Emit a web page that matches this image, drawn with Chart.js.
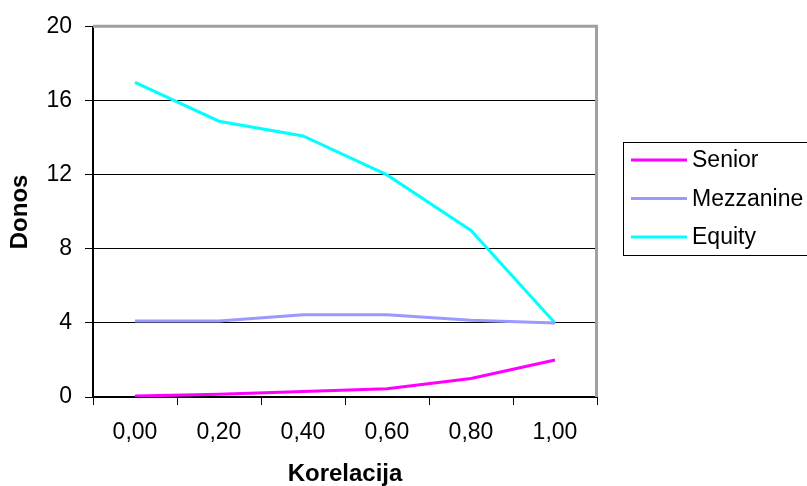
<!DOCTYPE html>
<html>
<head>
<meta charset="utf-8">
<script src="https://cdn.jsdelivr.net/npm/chart.js@4.4.0/dist/chart.umd.min.js"></script>
<style>
  html, body { margin: 0; padding: 0; background: #ffffff; }
  #wrap { width: 807px; height: 486px; }
</style>
</head>
<body>
<div id="wrap"><canvas id="c" width="807" height="486"></canvas></div>
<script>
const categories = ['0,00', '0,20', '0,40', '0,60', '0,80', '1,00'];
const seniorValues = [0.05, 0.15, 0.3, 0.45, 1.0, 2.0];
const mezzanineValues = [4.1, 4.1, 4.45, 4.45, 4.15, 4.0];
const equityValues = [17.0, 14.9, 14.1, 12.0, 9.0, 4.0];
const yTickValues = [0, 4, 8, 12, 16, 20];

const FONT = '"Liberation Sans", Arial, sans-serif';

const frameAndLegend = {
  id: 'frameAndLegend',
  beforeDatasetsDraw(chart) {
    const { ctx, chartArea: a } = chart;
    ctx.save();
    ctx.strokeStyle = '#a0a0a0';
    ctx.lineWidth = 3;
    ctx.beginPath();
    ctx.moveTo(a.left, a.top - 0.5);
    ctx.lineTo(a.right - 0.5, a.top - 0.5);
    ctx.lineTo(a.right - 0.5, a.bottom);
    ctx.stroke();
    ctx.restore();
  },
  afterDraw(chart) {
    const { ctx } = chart;
    ctx.save();
    ctx.strokeStyle = '#000000';
    ctx.lineWidth = 1;
    ctx.strokeRect(623.5, 142.5, 260, 113);
    const rows = [160, 198.5, 237];
    chart.data.datasets.forEach((ds, i) => {
      const y = rows[i];
      ctx.strokeStyle = ds.borderColor;
      ctx.lineWidth = 3;
      ctx.beginPath();
      ctx.moveTo(631, y);
      ctx.lineTo(687, y);
      ctx.stroke();
      ctx.fillStyle = '#000000';
      ctx.font = '23px ' + FONT;
      ctx.textBaseline = 'middle';
      ctx.textAlign = 'left';
      ctx.fillText(ds.label, 692, y + 1);
    });
    ctx.restore();
  }
};

new Chart(document.getElementById('c'), {
  type: 'line',
  data: {
    labels: categories,
    datasets: [
      { label: 'Senior', data: seniorValues, borderColor: '#ff00ff', backgroundColor: '#ff00ff' },
      { label: 'Mezzanine', data: mezzanineValues, borderColor: '#9999ff', backgroundColor: '#9999ff' },
      { label: 'Equity', data: equityValues, borderColor: '#00ffff', backgroundColor: '#00ffff' }
    ]
  },
  options: {
    responsive: false,
    animation: false,
    devicePixelRatio: 1,
    layout: { padding: { left: 0, top: 23, right: 210, bottom: 0 } },
    elements: {
      line: { borderWidth: 3, tension: 0 },
      point: { radius: 0, hoverRadius: 0 }
    },
    plugins: {
      legend: { display: false },
      tooltip: { enabled: false },
      title: { display: false }
    },
    scales: {
      x: {
        type: 'category',
        offset: true,
        grid: {
          offset: true,
          drawOnChartArea: false,
          drawTicks: true,
          tickLength: 8,
          color: '#000000',
          lineWidth: 1
        },
        border: { display: true, color: '#000000', width: 2 },
        ticks: {
          color: '#000000',
          font: { family: FONT, size: 23 },
          padding: 14,
          maxRotation: 0,
          autoSkip: false
        },
        title: {
          display: true,
          text: 'Korelacija',
          color: '#000000',
          font: { family: FONT, size: 24, weight: 'bold', lineHeight: 1 },
          padding: { top: 0, bottom: 0 }
        },
        afterFit(scale) { scale.height = 89; }
      },
      y: {
        min: 0,
        max: 20,
        afterBuildTicks(scale) { scale.ticks = yTickValues.map(v => ({ value: v })); },
        grid: {
          drawOnChartArea: true,
          drawTicks: true,
          tickLength: 8,
          color: '#000000',
          lineWidth: 1
        },
        border: { display: true, color: '#000000', width: 2 },
        ticks: {
          color: '#000000',
          font: { family: FONT, size: 23 },
          padding: 13
        },
        title: {
          display: true,
          text: 'Donos',
          color: '#000000',
          font: { family: FONT, size: 24, weight: 'bold', lineHeight: 1 },
          padding: { top: 8, bottom: 0 }
        },
        afterFit(scale) { scale.width = 93; }
      }
    }
  },
  plugins: [frameAndLegend]
});
</script>
</body>
</html>
